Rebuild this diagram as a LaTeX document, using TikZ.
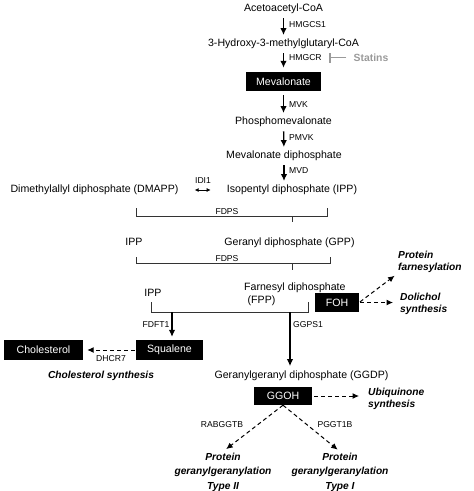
\documentclass[tikz,border=0pt]{standalone}
\usepackage{fontspec}
\setmainfont{Liberation Sans}
\usetikzlibrary{arrows.meta}
\definecolor{statgray}{HTML}{9A9A9A}
\definecolor{brk}{HTML}{333333}
\tikzset{
  txt/.style={font=\fontsize{10.6}{12}\selectfont, inner sep=1pt, text height=7.5pt, text depth=2pt},
  enz/.style={font=\fontsize{8.6}{10}\selectfont, inner sep=1pt, text height=6pt, text depth=1.7pt},
  outcome/.style={font=\fontsize{10.2}{12}\selectfont\bfseries\itshape, inner sep=1pt, align=left},
  outcomec/.style={font=\fontsize{10.2}{14.5}\selectfont\bfseries\itshape, inner sep=1pt, align=center},
  blackbox/.style={fill=black, text=white, font=\fontsize{10.6}{12}\selectfont, inner sep=0pt},
  arr/.style={line width=1.3pt, -{Latex[length=7pt,width=6.5pt]}, shorten <=3.5pt, shorten >=3pt},
  darr/.style={line width=1pt, dash pattern=on 4pt off 3pt, -{Latex[length=6.5pt,width=6pt]}},
  brack/.style={line width=0.8pt, brk},
}
\begin{document}
\begin{tikzpicture}[x=1pt,y=-1pt]
\useasboundingbox (0,0) rectangle (474,491);
% main chain
\node[txt] (ace) at (283.5,9) {Acetoacetyl-CoA};
\node[txt] (hmg) at (283.5,44) {3-Hydroxy-3-methylglutaryl-CoA};
\node[blackbox, minimum width=75pt, minimum height=19pt] (mev) at (283.5,81.5) {Mevalonate};
\node[txt] (pmev) at (283.5,122) {Phosphomevalonate};
\node[txt] (mevdp) at (284,156) {Mevalonate diphosphate};
\node[txt] (ipp1) at (292,190) {Isopentyl diphosphate (IPP)};
\node[txt] (dmapp) at (94.5,190) {Dimethylallyl diphosphate (DMAPP)};
\node[enz] (idi) at (203,181) {IDI1};

\draw[arr] (ace) -- (hmg);
\draw[arr, shorten >=4pt] (hmg) -- (mev);
\draw[arr, shorten <=4pt] (mev) -- (pmev);
\draw[arr] (pmev) -- (mevdp);
\draw[arr] (mevdp.south) -- (mevdp.south |- ipp1.north);

\node[enz, anchor=west] (e1) at (288,25.5) {HMGCS1};
\node[enz, anchor=west] (e2) at (288,58) {HMGCR};
\node[enz, anchor=west] (e3) at (288,105.5) {MVK};
\node[enz, anchor=west] (e4) at (288,138.5) {PMVK};
\node[enz, anchor=west] (e5) at (288,171) {MVD};

% statins
\node[font=\fontsize{10.4}{12}\selectfont\bfseries, text=statgray, inner sep=1pt] (stat) at (371,58) {Statins};
\coordinate (inh) at (329,57.5);
\draw[statgray, line width=1.6pt, -{Bar[width=10pt,line width=1.6pt]}, shorten <=6pt] (stat.west |- inh) -- (inh);

% IDI1 double arrow
\draw[line width=0.8pt, {Latex[length=4pt,width=4pt]}-{Latex[length=4pt,width=4pt]}, shorten <=15pt, shorten >=15pt] (dmapp.east) -- (ipp1.west);

% bracket 1
\coordinate (b1a) at (136,208);
\coordinate (b1b) at (136,216);
\coordinate (b1c) at (327,216);
\coordinate (b1d) at (327,208);
\coordinate (b1m) at (292,216);
\coordinate (b1t) at (292,222);
\draw[brack] (b1a) -- (b1b) -- (b1c) -- (b1d);
\draw[brack] (b1m) -- (b1t);
\node[enz] (f1) at (227,212) {FDPS};

% GPP row
\node[txt] (ipp2) at (134,243) {IPP};
\node[txt] (gpp) at (289.5,243) {Geranyl diphosphate (GPP)};

% bracket 2
\coordinate (b2a) at (136,257);
\coordinate (b2b) at (136,263.5);
\coordinate (b2c) at (330,263.5);
\coordinate (b2d) at (330,257);
\coordinate (b2m) at (292,263.5);
\coordinate (b2t) at (292,270);
\draw[brack] (b2a) -- (b2b) -- (b2c) -- (b2d);
\draw[brack] (b2m) -- (b2t);
\node[enz] (f2) at (227,259) {FDPS};

% FPP row
\node[txt] (ipp3) at (153,294) {IPP};
\node[font=\fontsize{10.6}{13}\selectfont, inner sep=1pt, align=left, anchor=west] (fpp) at (243,294.5) {Farnesyl diphosphate\\\hspace*{3.5pt}(FPP)};
\node[blackbox, minimum width=44pt, minimum height=19pt] (foh) at (337,302.5) {FOH};
\node[outcome, anchor=west] (pf) at (397,262) {Protein\\farnesylation};
\node[outcome, anchor=west] (ds) at (399,304) {Dolichol\\synthesis};
\draw[darr, shorten <=1pt, shorten >=3pt] (foh.east) -- (pf.south west);
\draw[darr, shorten <=1pt, shorten >=6pt] (foh.east) -- (foh.east -| ds.west);

% bracket 3
\coordinate (b3a) at (151,302);
\coordinate (b3b) at (151,312);
\coordinate (b3c) at (308,312);
\coordinate (b3d) at (308,302);
\coordinate (b3m1) at (172,312);
\coordinate (b3m2) at (290,312);
\draw[brack] (b3a) -- (b3b) -- (b3c) -- (b3d);

% squalene / cholesterol
\node[blackbox, minimum width=67pt, minimum height=20pt] (sq) at (169.5,350) {Squalene};
\node[blackbox, minimum width=79pt, minimum height=20pt] (chol) at (43.5,350) {Cholesterol};
\draw[arr, line width=1.1pt, shorten <=0pt] (b3m1) -- (b3m1 |- sq.north);
\node[enz] (ffd) at (156,325) {FDFT1};
\draw[darr, shorten <=1pt, shorten >=4pt] (sq.west) -- (chol.east);
\node[enz] (dh) at (111,359) {DHCR7};
\node[outcome] (cs) at (101,376) {Cholesterol synthesis};

% GGDP
\node[txt] (ggdp) at (301.5,376) {Geranylgeranyl diphosphate (GGDP)};
\draw[arr, line width=1.1pt, shorten <=0pt, shorten >=4pt] (b3m2) -- (b3m2 |- ggdp.north);
\node[enz, anchor=west] (gg) at (292,325) {GGPS1};

\node[blackbox, minimum width=58pt, minimum height=18pt] (ggoh) at (283,396) {GGOH};
\node[outcome, anchor=west] (ub) at (367,399) {Ubiquinone\\synthesis};
\draw[darr, shorten <=2pt, shorten >=8pt] (ggoh.east) -- (ggoh.east -| ub.west);

\node[outcomec] (t2) at (223,472) {Protein\\geranylgeranylation\\Type II};
\node[outcomec] (t1) at (340,472) {Protein\\geranylgeranylation\\Type I};
\draw[darr, shorten >=4pt] (ggoh.south) -- (t2.north);
\draw[darr, shorten >=3pt] (ggoh.south) -- (t1.north);
\node[enz] (rab) at (222,425) {RABGGTB};
\node[enz] (pgg) at (335,425) {PGGT1B};
\end{tikzpicture}
\end{document}
